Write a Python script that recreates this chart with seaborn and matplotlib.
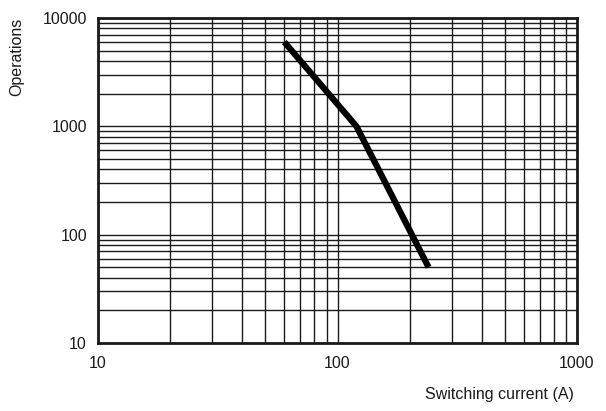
import numpy as np
import pandas as pd
import seaborn as sns
import matplotlib
matplotlib.use("Agg")
import matplotlib.pyplot as plt
from matplotlib.ticker import LogLocator, FixedLocator, NullFormatter

# curve
current = [60, 120, 240]
operations = [6000, 1000, 50]

x_ticks = [10, 100, 1000]
x_labels = ["10", "100", "1000"]
y_ticks = [10, 100, 1000, 10000]
y_labels = ["10", "100", "1000", "10000"]

sns.set_style("white")
plt.rcParams['font.family'] = ['Liberation Sans', 'DejaVu Sans']

df = pd.DataFrame({"current": current, "operations": operations})

fig = plt.figure(figsize=(6.06, 4.11), dpi=100)
ax = fig.add_axes([98/606, 68/411, 479/606, 325/411])

sns.lineplot(data=df, x="current", y="operations", ax=ax, color="black",
             linewidth=4.5, solid_capstyle="butt")

ax.set_xscale("log")
ax.set_yscale("log")
ax.set_xlim(10, 1000)
ax.set_ylim(10, 10000)

ax.xaxis.set_major_locator(FixedLocator(x_ticks))
ax.yaxis.set_major_locator(FixedLocator(y_ticks))
ax.set_xticklabels(x_labels)
ax.set_yticklabels(y_labels)
ax.xaxis.set_minor_locator(LogLocator(base=10, subs=np.arange(2, 10)))
ax.yaxis.set_minor_locator(LogLocator(base=10, subs=np.arange(2, 10)))
ax.xaxis.set_minor_formatter(NullFormatter())
ax.yaxis.set_minor_formatter(NullFormatter())

ax.grid(True, which="both", color="#1a1a1a", linewidth=1.0)
ax.tick_params(which="both", length=0, labelsize=11.5, colors="#1a1a1a")
ax.tick_params(axis="x", pad=9)
ax.tick_params(axis="y", pad=8)

for s in ax.spines.values():
    s.set_linewidth(2.0)
    s.set_color("#1a1a1a")
    s.set_visible(True)

ax.set_xlabel("Switching current (A)", fontsize=11.5, color="#1a1a1a", ha="right")
ax.xaxis.set_label_coords(0.993, -0.135)
ax.set_ylabel("Operations", fontsize=11.5, color="#1a1a1a", ha="center")
ax.yaxis.set_label_coords(-0.155, 0.88)

fig.savefig("out.png", dpi=100)
